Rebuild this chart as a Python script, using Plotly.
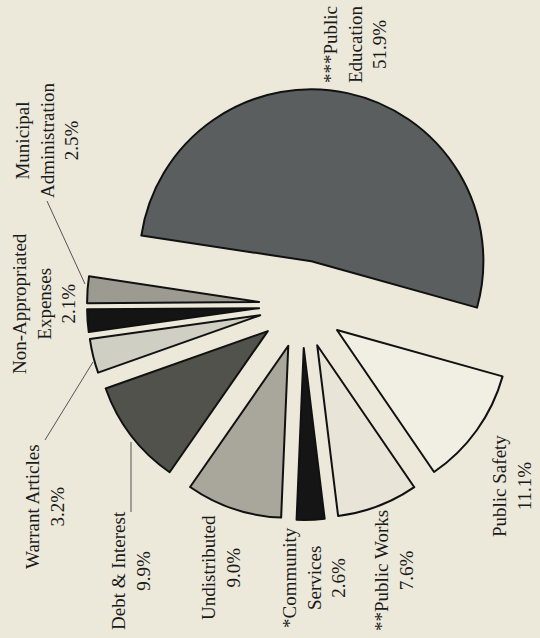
import plotly.graph_objects as go

# ---- data (clockwise order starting with Public Education) ----
categories = ["***Public Education", "Public Safety", "**Public Works",
              "*Community Services", "Undistributed", "Debt & Interest",
              "Warrant Articles", "Non-Appropriated Expenses",
              "Municipal Administration"]
shares = [51.9, 11.1, 7.6, 2.6, 9.0, 9.9, 3.2, 2.1, 2.5]
label_text = ["***Public<br>Education<br>51.9%",
              "Public Safety<br>11.1%",
              "**Public Works<br>7.6%",
              "*Community<br>Services<br>2.6%",
              "Undistributed<br>9.0%",
              "Debt & Interest<br>9.9%",
              "Warrant Articles<br>3.2%",
              "Non-Appropriated<br>Expenses<br>2.1%",
              "Municipal<br>Administration<br>2.5%"]

# ---- styling / layout ----
slice_colors = ["#5a5e5e", "#f1eee3", "#e8e5d8", "#151515", "#a9a79c",
                "#52524d", "#cfcfc4", "#141414", "#9c9a91"]
slice_pull = [0.26, 0.25, 0.25, 0.25, 0.25, 0.25, 0.25, 0.25, 0.25]
BG = "#ece8da"
W, H = 540, 638
CX, CY, R = 302, 305, 172          # pie centre / radius in pixels
HALF = R * (1 + max(slice_pull))    # plotly shrinks the radius by the max pull

# label centres in pixels (layout only)
label_px = [(355, 44), (512, 486), (394, 571), (314, 578), (221, 568),
            (131, 571), (45, 507), (44, 304), (47, 140)]
leaders_px = [((47, 201), (85, 284)),
              ((45, 440), (93, 362)),
              ((131, 442), (131, 512))]

fig = go.Figure(go.Pie(
    labels=categories,
    values=shares,
    sort=False,
    direction="clockwise",
    rotation=-81.4,
    pull=slice_pull,
    marker=dict(colors=slice_colors, line=dict(color="#111111", width=2)),
    textinfo="none",
    hoverinfo="label+percent",
    domain=dict(x=[(CX - HALF) / W, (CX + HALF) / W],
                y=[1 - (CY + HALF) / H, 1 - (CY - HALF) / H]),
    showlegend=False,
))

annotations = []
for txt, (px, py) in zip(label_text, label_px):
    annotations.append(dict(
        text=txt, x=px / W, y=1 - py / H, xref="paper", yref="paper",
        showarrow=False, textangle=-90, xanchor="center", yanchor="middle",
        align="center", borderpad=0,
        font=dict(family="Liberation Serif, Times New Roman, serif",
                  size=19, color="#1a1a1a"),
    ))

shapes = []
for (x0, y0), (x1, y1) in leaders_px:
    shapes.append(dict(type="line", xref="paper", yref="paper",
                       x0=x0 / W, y0=1 - y0 / H, x1=x1 / W, y1=1 - y1 / H,
                       line=dict(color="#555555", width=1)))

fig.update_layout(
    width=W, height=H,
    margin=dict(l=0, r=0, t=0, b=0),
    paper_bgcolor=BG, plot_bgcolor=BG,
    annotations=annotations, shapes=shapes,
)

fig.write_html(
    "out.html",
    config={"displayModeBar": False},
    post_script=("document.body.style.margin='0';"
                 "document.body.style.padding='0';"
                 "document.body.style.overflow='hidden';"
                 "document.body.style.background='" + BG + "';"),
)
